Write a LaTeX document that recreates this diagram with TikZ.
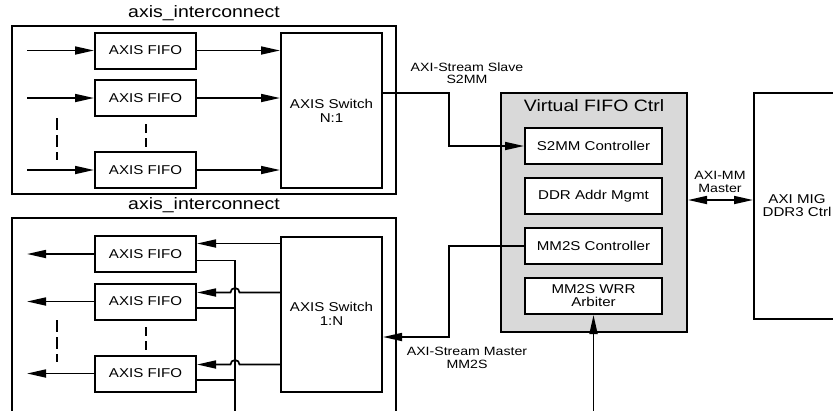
\documentclass[tikz,border=0pt]{standalone}
\usepackage{fontspec}
\setmainfont[FakeStretch=1.18]{Liberation Sans}
\usepackage{xcolor}
\usepackage{tikz}
\usetikzlibrary{arrows.meta, positioning}

\definecolor{ctrlgray}{RGB}{217,217,217}

\begin{document}
\begin{tikzpicture}[
        x=1pt, y=-1pt,
        every node/.style={font=\fontsize{12.8}{14}\selectfont},
        box/.style={rectangle, draw, line width=2pt, minimum width=101pt, minimum height=36pt, align=center, inner sep=0pt},
        switchbox/.style={box, minimum height=155pt},
        panel/.style={rectangle, draw, line width=2pt, inner sep=0pt},
        ctrlbox/.style={box, fill=white, minimum width=137pt},
        lbl/.style={font=\fontsize{12}{12.5}\selectfont, align=center},
        ttl/.style={font=\fontsize{16.5}{18}\selectfont},
        >={Triangle[length=19pt, width=8pt]},
        line width=1.7pt
    ]
        \clip (0,0) rectangle (833,410);

        % upper interconnect (N:1)
        \node[panel, minimum width=384pt, minimum height=168pt] (pin) at (204,110) {};
        \node[ttl, above=0pt of pin] (pintitle) {axis\_interconnect};
        \node[box] (fi1) at (145.5,50.5) {AXIS FIFO};
        \node[box] (fi2) at (145.5,98) {AXIS FIFO};
        \node[box] (fi3) at (145.5,170) {AXIS FIFO};
        \node[switchbox] (swin) at (331.5,110.5) {AXIS Switch\\N:1};

        \foreach \i in {1,2,3} {
            \coordinate (src\i) at (27,0 |- fi\i.west);
            \draw[->] (src\i) -- (fi\i.west);
            \draw[->] (fi\i.east) -- (fi\i.east -| swin.west);
        }
        \draw[dash pattern=on 12pt off 5pt] (57,118) -- (57,160);
        \draw[dash pattern=on 9pt off 5pt] (146,124) -- (146,148);

        % lower interconnect (1:N)
        \node[panel, minimum width=384pt, minimum height=207pt] (pout) at (204,321.5) {};
        \node[ttl, above=0pt of pout] (pouttitle) {axis\_interconnect};
        \node[box] (fo1) at (145.5,254) {AXIS FIFO};
        \node[box] (fo2) at (145.5,301.5) {AXIS FIFO};
        \node[box] (fo3) at (145.5,373.5) {AXIS FIFO};
        \node[switchbox] (swout) at (331.5,314) {AXIS Switch\\1:N};

        \coordinate (bus) at (235,420);
        \foreach \i in {1,2,3} {
            \coordinate (dst\i) at (27,0 |- fo\i.west);
            \draw[->] (fo\i.west) -- (dst\i);
            \draw ([yshift=-6.5pt]fo\i.east) -| (bus);
        }
        \draw[->] ([yshift=10.5pt]fo1.east -| swout.west) -- ([yshift=10.5pt]fo1.east);
        \foreach \i in {2,3} {
            \coordinate (hop\i) at ([yshift=9pt]fo\i.east -| bus);
            \draw[->] (hop\i -| swout.west) -- ([xshift=4.5pt]hop\i)
                arc[start angle=0, end angle=180, radius=4.5pt] -- ([yshift=9pt]fo\i.east);
        }
        \draw[dash pattern=on 12pt off 5pt] (57,320) -- (57,362);
        \draw[dash pattern=on 9pt off 5pt] (146,327) -- (146,351);

        % virtual FIFO controller
        \node[panel, fill=ctrlgray, minimum width=186pt, minimum height=239pt] (vfifo) at (594,212.5) {};
        \node[ttl, below=3pt of vfifo.north] (vtitle) {Virtual FIFO Ctrl};
        \node[ctrlbox] (s2mm) at (593.5,146) {S2MM Controller};
        \node[ctrlbox, below=12pt of s2mm] (ddr) {DDR Addr Mgmt};
        \node[ctrlbox, below=12pt of ddr] (mm2s) {MM2S Controller};
        \node[ctrlbox, below=12pt of mm2s] (wrr) {MM2S WRR\\[-1pt]Arbiter};

        \node[panel, minimum width=86pt, minimum height=226pt, align=center] (mig) at (797,206) {AXI MIG\\[-1pt]DDR3 Ctrl};

        % connections
        \draw[->] ([yshift=17.5pt]swin.east) -| ([xshift=-75pt]s2mm.west) -- (s2mm.west);
        \draw[->] (mm2s.west) -- ++(-75,0) |- ([yshift=-23pt]swout.east);
        \draw[<->] ([yshift=12.5pt]vfifo.east) -- ([yshift=12.5pt]vfifo.east -| mig.west);
        \coordinate (arbin) at (593.5,415);
        \draw[->] (arbin) -- (wrr.south);

        \node[lbl] (slavelbl) at (467,73) {AXI-Stream Slave\\S2MM};
        \node[lbl] (masterlbl) at (467,358) {AXI-Stream Master\\MM2S};
        \node[lbl] (mmlbl) at (720,182) {AXI-MM\\Master};

    \end{tikzpicture}
\end{document}
